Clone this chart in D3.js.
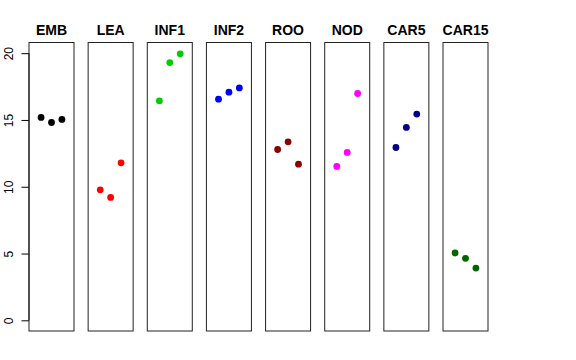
<!DOCTYPE html>
<html><head><meta charset="utf-8">
<script src="https://cdn.jsdelivr.net/npm/d3@7"></script>
<style>body{margin:0;background:#fff}svg{display:block}text{font-family:"Liberation Sans",Arial,Helvetica,sans-serif}</style>
</head><body>
<svg id="c" width="576" height="360"></svg>
<script>
const categories = ["EMB","LEA","INF1","INF2","ROO","NOD","CAR5","CAR15"];
const colors = ["#000000","#FF0000","#00CD00","#0000FF","#8B0000","#FF00FF","#00008B","#006400"];
const rep1 = [15.19, 9.77, 16.43, 16.56, 12.79, 11.52, 12.94, 5.04];
const rep2 = [14.81, 9.20, 19.30, 17.08, 13.36, 12.57, 14.44, 4.64];
const rep3 = [15.04, 11.79, 19.95, 17.40, 11.69, 16.98, 15.44, 3.91];
const yTicks = [0, 5, 10, 15, 20];

const svg = d3.select("#c");
const panelTop = 42.5, panelBottom = 331, panelW = 45;
const y = d3.scaleLinear().domain([-0.8, 20.8]).range([panelBottom, panelTop]);
const panelX = d3.scalePoint().domain(categories).range([29, 443]);
const x = d3.scaleLinear().domain([-0.16, 4.16]).range([0, panelW]);

// y axis
const yAxis = d3.axisLeft(y).tickValues(yTicks).tickSize(7.5).tickPadding(9).tickFormat(d3.format("d"));
const ag = svg.append("g").attr("transform", "translate(29,0)").call(yAxis);
ag.select(".domain").attr("d", `M0,${y(0)}V${y(20)}`).attr("stroke", "#000");
ag.selectAll(".tick line").attr("stroke", "#000");
ag.selectAll(".tick text")
  .attr("font-size", 12).attr("fill", "#000")
  .attr("text-anchor", "middle")
  .attr("transform", "rotate(-90)")
  .attr("x", 0)
  .attr("y", -16.5)
  .attr("dy", null);

categories.forEach((cat, i) => {
  const g = svg.append("g").attr("transform", `translate(${panelX(cat)},0)`);
  const vals = [rep1[i], rep2[i], rep3[i]];
  g.selectAll("circle").data(vals).enter().append("circle")
    .attr("cx", (d, j) => x(j + 1))
    .attr("cy", d => y(d))
    .attr("r", 3.4)
    .attr("fill", colors[i]);
  g.append("rect").attr("x", 0).attr("y", panelTop).attr("width", panelW).attr("height", panelBottom - panelTop)
    .attr("fill", "none").attr("stroke", "#222").attr("stroke-width", 1);
  g.append("text").attr("x", panelW / 2).attr("y", 34.5)
    .attr("text-anchor", "middle").attr("font-weight", "bold").attr("font-size", 14)
    .text(cat);
});
</script>
</body></html>
